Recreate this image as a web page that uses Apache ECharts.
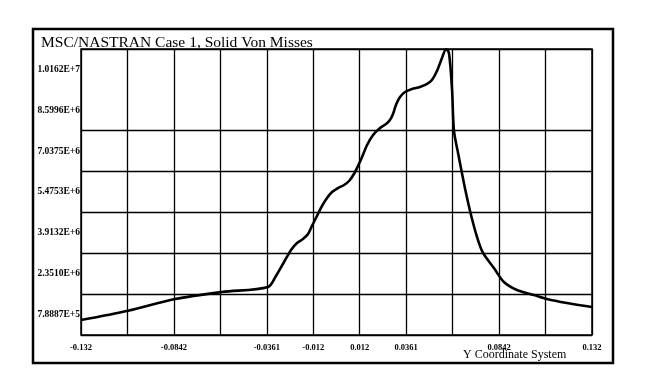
<!DOCTYPE html>
<html>
<head>
<meta charset="utf-8">
<script src="https://cdn.jsdelivr.net/npm/echarts@6/dist/echarts.min.js"></script>
<style>
  html, body { margin: 0; padding: 0; background: #fff; }
  #main { width: 647px; height: 388px; }
</style>
</head>
<body>
<div id="main"></div>
<script>
// x tick labels (12 grid lines, only some labelled)
const xTickLabels = ['-0.132', '', '-0.0842', '', '-0.0361', '-0.012', '0.012', '0.0361', '', '0.0842', '', '0.132']
// y labels sit in the middle of each band, bottom to top
const yTickLabels = ['7.8887E+5', '2.3510E+6', '3.9132E+6', '5.4753E+6', '7.0375E+6', '8.5996E+6', '1.0162E+7']

// Y coordinate (m)
const yCoord = [
    -0.1320, -0.1077, -0.0834, -0.0592, -0.0354, -0.0313, -0.0271, -0.0235, -0.0204, -0.0173,
    -0.0147, -0.0127, -0.0101, -0.0075, -0.0049, -0.0023, 0.0008, 0.0039, 0.0065, 0.0090,
    0.0111, 0.0132, 0.0158, 0.0189, 0.0225, 0.0256, 0.0276, 0.0292, 0.0307, 0.0328,
    0.0354, 0.0390, 0.0431, 0.0468, 0.0493, 0.0519, 0.0545, 0.0566,
    0.0581, 0.0597, 0.0607, 0.0628, 0.0648, 0.0669, 0.0695, 0.0726, 0.0757, 0.0813,
    0.0865, 0.0932, 0.1020, 0.1087, 0.1190, 0.1320
]
// von mises stress
const vonMises = [
    5.81e5, 9.37e5, 1.384e6, 1.652e6, 1.843e6, 2.264e6, 2.799e6, 3.258e6, 3.525e6, 3.678e6,
    3.869e6, 4.175e6, 4.558e6, 4.940e6, 5.246e6, 5.475e6, 5.628e6, 5.743e6, 5.896e6, 6.164e6,
    6.470e6, 6.814e6, 7.272e6, 7.655e6, 7.922e6, 8.075e6, 8.228e6, 8.458e6, 8.802e6, 9.108e6,
    9.299e6, 9.414e6, 9.490e6, 9.605e6, 9.758e6, 1.0102e7, 1.0599e7, 1.0935e7,
    1.0790e7, 9.375e6, 7.808e6, 6.967e6, 6.202e6, 5.437e6, 4.596e6, 3.755e6, 3.144e6, 2.570e6,
    2.034e6, 1.728e6, 1.537e6, 1.384e6, 1.231e6, 1.078e6
]

const yMin = 7790
const yMax = 10942910

const chart = echarts.init(document.getElementById('main'), null, { renderer: 'canvas' })

let lineData = []
for (let i = 0; i < yCoord.length; i++) {
    lineData.push([yCoord[i], vonMises[i]])
}

// horizontal grid, the one just under the top is missing in the plot
let hLineColors = ['#000', '#000', '#000', '#000', '#000', '#000', 'rgba(0,0,0,0)', '#000']

const option = {
    backgroundColor: '#fff',
    animation: false,
    title: {
        text: 'MSC/NASTRAN Case 1, Solid Von Misses',
        left: 36,
        top: 30,
        textStyle: {
            fontFamily: 'Liberation Serif',
            fontSize: 15.5,
            fontWeight: 'normal',
            color: '#000'
        }
    },
    graphic: [
        {
            type: 'rect',
            shape: { x: 33, y: 29, width: 580, height: 334 },
            style: { fill: 'none', stroke: '#000', lineWidth: 2.5 },
            silent: true
        },
        {
            type: 'text',
            left: 463,
            top: 349,
            style: {
                text: 'Y Coordinate System',
                font: '12px "Liberation Serif"',
                fill: '#000'
            }
        }
    ],
    grid: {
        left: 81,
        right: 55,
        top: 49,
        bottom: 53,
        show: true,
        borderColor: '#000',
        borderWidth: 1.5,
        containLabel: false
    },
    xAxis: [
        {
            type: 'value',
            min: 0,
            max: 11,
            interval: 1,
            axisLine: { show: false },
            axisTick: { show: false },
            splitLine: { show: true, lineStyle: { color: '#000', width: 1.3 } },
            axisLabel: {
                show: true,
                margin: 8,
                fontFamily: 'Liberation Serif',
                fontSize: 8.5,
                fontWeight: 'bold',
                color: '#000',
                formatter: function (v) {
                    return xTickLabels[Math.round(v)] || ''
                }
            }
        },
        {
            type: 'value',
            min: -0.132,
            max: 0.132,
            show: false,
            splitLine: { show: false }
        }
    ],
    yAxis: [
        {
            type: 'category',
            data: yTickLabels,
            boundaryGap: true,
            axisLine: { show: false },
            axisTick: { show: false },
            splitLine: { show: true, lineStyle: { color: hLineColors, width: 1.3 } },
            axisLabel: {
                margin: 1,
                fontFamily: 'Liberation Serif',
                fontSize: 9.5,
                fontWeight: 'bold',
                color: '#000'
            }
        },
        {
            type: 'value',
            min: yMin,
            max: yMax,
            show: false,
            splitLine: { show: false }
        }
    ],
    series: [
        {
            type: 'line',
            name: 'Von Misses',
            xAxisIndex: 1,
            yAxisIndex: 1,
            data: lineData,
            symbol: 'none',
            smooth: 0.3,
            lineStyle: { color: '#000', width: 2.6 }
        }
    ]
}
option && chart.setOption(option)
</script>
</body>
</html>
